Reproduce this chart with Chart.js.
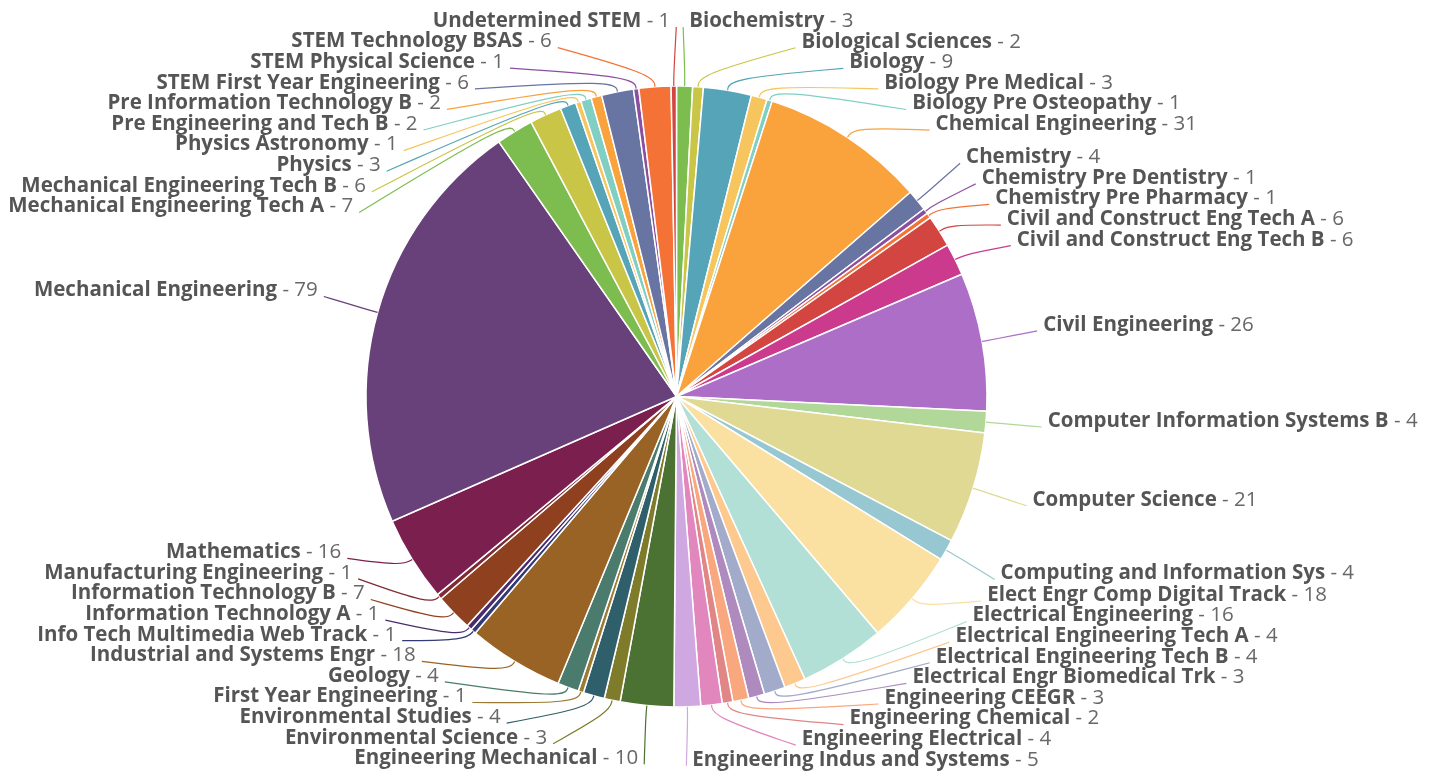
<!DOCTYPE html>
<html>
<head>
<meta charset="utf-8">
<script src="https://cdn.jsdelivr.net/npm/chart.js@4.4.0/dist/chart.umd.min.js"></script>
<style>
	html, body { margin: 0; padding: 0; background: #fff; }
</style>
</head>
<body>
<canvas id="majorsPie" width="1439" height="775"></canvas>
<script>
var majors = [
	'Biochemistry', 'Biological Sciences', 'Biology', 'Biology Pre Medical', 'Biology Pre Osteopathy',
	'Chemical Engineering', 'Chemistry', 'Chemistry Pre Dentistry', 'Chemistry Pre Pharmacy',
	'Civil and Construct Eng Tech A', 'Civil and Construct Eng Tech B', 'Civil Engineering',
	'Computer Information Systems B', 'Computer Science', 'Computing and Information Sys',
	'Elect Engr Comp Digital Track', 'Electrical Engineering', 'Electrical Engineering Tech A',
	'Electrical Engineering Tech B', 'Electrical Engr Biomedical Trk', 'Engineering CEEGR',
	'Engineering Chemical', 'Engineering Electrical', 'Engineering Indus and Systems',
	'Engineering Mechanical', 'Environmental Science', 'Environmental Studies', 'First Year Engineering',
	'Geology', 'Industrial and Systems Engr', 'Info Tech Multimedia Web Track', 'Information Technology A',
	'Information Technology B', 'Manufacturing Engineering', 'Mathematics', 'Mechanical Engineering',
	'Mechanical Engineering Tech A', 'Mechanical Engineering Tech B', 'Physics', 'Physics Astronomy',
	'Pre Engineering and Tech B', 'Pre Information Technology B', 'STEM First Year Engineering',
	'STEM Physical Science', 'STEM Technology BSAS', 'Undetermined STEM'
];

var students = [
	3, 2, 9, 3, 1,
	31, 4, 1, 1,
	6, 6, 26,
	4, 21, 4,
	18, 16, 4,
	4, 3, 3,
	2, 4, 5,
	10, 3, 4, 1,
	4, 18, 1, 1,
	7, 1, 16, 79,
	7, 6, 3, 1,
	2, 2, 6,
	1, 6, 1
];

// palette repeats every 36 slices
var palette = [
	'#7dbd4f', '#c9c547', '#56a4b7', '#f6c55e', '#80cfc2', '#faa23c',
	'#6874a2', '#8c4f9f', '#f47235', '#d24541', '#cc3a8e', '#ad6ec8',
	'#b2d899', '#dfd993', '#97c8d1', '#fae0a1', '#b3e0d6', '#fdc98e',
	'#a2abc9', '#ae8abf', '#f9a77f', '#e08686', '#e286be', '#cfa7e1',
	'#4b7232', '#7e7b2a', '#2e5f6b', '#9b7a35', '#4a7b6d', '#986325',
	'#333a75', '#4a2b6b', '#8f411f', '#7e2c33', '#7b1f4f', '#68407a'
];

var sliceColors = [];
for (var i in majors) {
	sliceColors.push(palette[i % palette.length]);
}

function basisLine(ctx, p0, p1, p2) {
	ctx.beginPath();
	ctx.moveTo(p0.x, p0.y);
	ctx.lineTo((5 * p0.x + p1.x) / 6, (5 * p0.y + p1.y) / 6);
	ctx.bezierCurveTo((2 * p0.x + p1.x) / 3, (2 * p0.y + p1.y) / 3,
		(p0.x + 2 * p1.x) / 3, (p0.y + 2 * p1.y) / 3,
		(p0.x + 4 * p1.x + p2.x) / 6, (p0.y + 4 * p1.y + p2.y) / 6);
	ctx.bezierCurveTo((2 * p1.x + p2.x) / 3, (2 * p1.y + p2.y) / 3,
		(p1.x + 2 * p2.x) / 3, (p1.y + 2 * p2.y) / 3,
		(p1.x + 5 * p2.x) / 6, (p1.y + 5 * p2.y) / 6);
	ctx.lineTo(p2.x, p2.y);
	ctx.stroke();
}

// labels near top/bottom keep their spot, the rest get pushed toward the middle
function spread(g, gap, down) {
	g.sort(function(a, b) { return down ? a.y - b.y : b.y - a.y; });
	for (var k = 1; k < g.length; k++) {
		if (down) g[k].y = Math.max(g[k].y, g[k - 1].y + gap);
		else g[k].y = Math.min(g[k].y, g[k - 1].y - gap);
	}
}

var outerLabels = {
	id: 'outerLabels',
	afterDatasetsDraw: function(chart) {
		var ctx = chart.ctx;
		var arcs = chart.getDatasetMeta(0).data;
		var gap = 20.6;
		var fontPx = 20.5;
		var items = [];

		arcs.forEach(function(arc, i) {
			var p = arc.getProps(['x', 'y', 'startAngle', 'endAngle', 'outerRadius'], true);
			var mid = (p.startAngle + p.endAngle) / 2;
			var L = p.outerRadius + 59;
			items.push({
				i: i, mid: mid, cx: p.x, cy: p.y, R: p.outerRadius, L: L,
				right: Math.cos(mid) >= 0,
				y: p.y + L * Math.sin(mid)
			});
		});

		[true, false].forEach(function(side) {
			var g = items.filter(function(it) { return it.right === side; });
			spread(g.filter(function(it) { return it.y < it.cy; }), gap, true);
			spread(g.filter(function(it) { return it.y >= it.cy; }), gap, false);
		});

		ctx.save();
		items.forEach(function(it) {
			var dy = it.y - it.cy;
			var dx = Math.sqrt(Math.max(0, it.L * it.L - dy * dy));
			var dir = it.right ? 1 : -1;
			var lx = it.cx + dir * dx;
			var p0 = { x: it.cx + it.R * Math.cos(it.mid), y: it.cy + it.R * Math.sin(it.mid) };
			var p1 = { x: it.cx + (it.R + 12) * Math.cos(it.mid), y: it.cy + (it.R + 12) * Math.sin(it.mid) };
			var p2 = { x: lx - dir * 3, y: it.y };

			ctx.strokeStyle = sliceColors[it.i];
			ctx.lineWidth = 1.2;
			basisLine(ctx, p0, p1, p2);

			var name = majors[it.i];
			var val = ' - ' + students[it.i];
			var ty = it.y - 6;
			ctx.textBaseline = 'middle';
			ctx.textAlign = 'left';
			ctx.font = 'bold ' + fontPx + 'px "Open Sans"';
			var wName = ctx.measureText(name).width;
			ctx.font = fontPx + 'px "Open Sans"';
			var wVal = ctx.measureText(val).width;
			var tx = it.right ? lx + 3 : lx - 3 - wName - wVal;
			ctx.font = 'bold ' + fontPx + 'px "Open Sans"';
			ctx.fillStyle = '#555555';
			ctx.fillText(name, tx, ty);
			ctx.font = fontPx + 'px "Open Sans"';
			ctx.fillStyle = '#686868';
			ctx.fillText(val, tx + wName, ty);
		});
		ctx.restore();
	}
};

var ctx = document.getElementById('majorsPie');

var pieChart = new Chart(ctx, {
	type: 'pie',
	data: {
		labels: majors,
		datasets: [{
			data: students,
			backgroundColor: sliceColors,
			borderColor: '#ffffff',
			borderWidth: 1.5
		}]
	},
	options: {
		responsive: false,
		animation: false,
		radius: 310.5,
		layout: { padding: { left: 0, right: 86, top: 18, bottom: 0 } },
		plugins: {
			legend: { display: false },
			tooltip: { enabled: false }
		}
	},
	plugins: [outerLabels]
});
</script>
</body>
</html>
